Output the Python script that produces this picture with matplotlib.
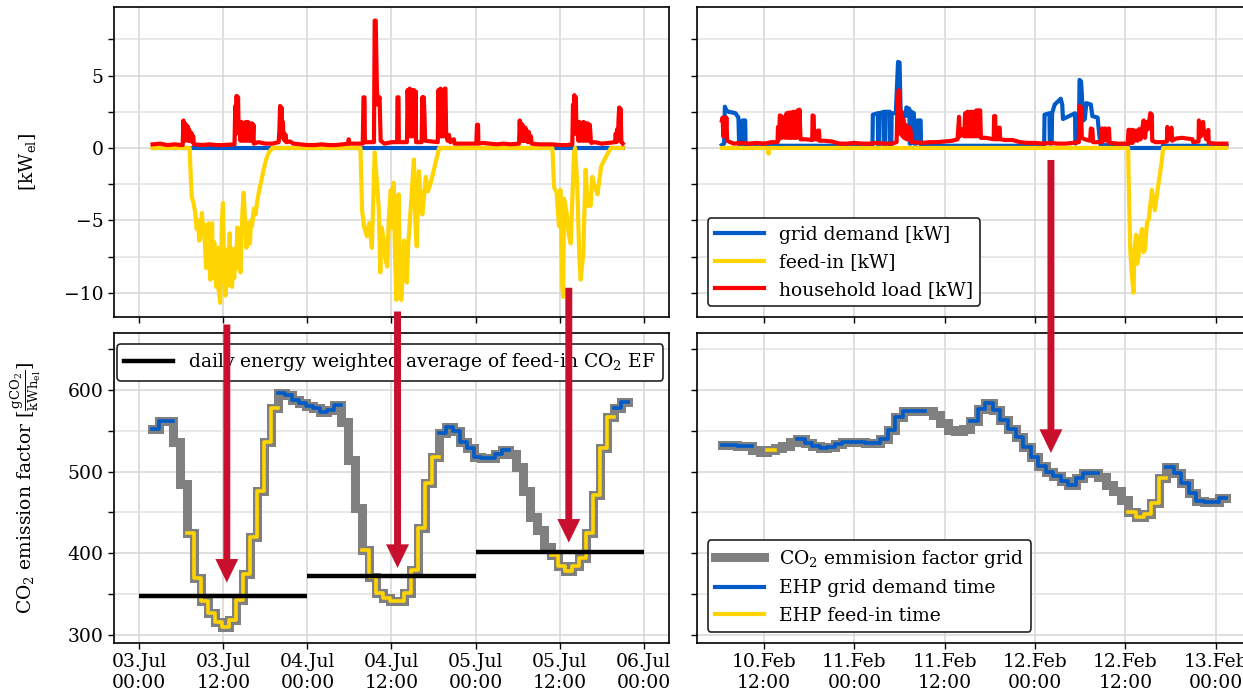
import numpy as np
import matplotlib
matplotlib.use("Agg")
import matplotlib.pyplot as plt
import matplotlib.dates as mdates
from matplotlib.ticker import MultipleLocator
from matplotlib.patches import ConnectionPatch
from matplotlib.lines import Line2D
from datetime import datetime

plt.rcParams["font.family"] = "DejaVu Serif"
plt.rcParams["mathtext.fontset"] = "dejavuserif"
plt.rcParams["font.size"] = 13.5

BLUE = "#005ac8"
YELLOW = "#ffd400"
RED = "#ff0000"
GREY = "#808080"
ARROW = "#c8102e"

JUL0 = mdates.date2num(datetime(2022, 7, 3))
FEB0 = mdates.date2num(datetime(2022, 2, 10))

# ---- top row: power series, (hours since day-0 00:00, kW) ------------------------
SUMMER_GRID = [(1.9, 0.0), (69.0, 0.0)]
SUMMER_FEEDIN = [
    (1.9, 0), (7.2, 0), (7.35, -2.0), (7.5, -3.4), (7.75, -3.8), (8.0, -4.5), (8.2, -5.6),
    (8.4, -5.0), (8.55, -6.4), (8.7, -6.3), (8.95, -4.5), (9.1, -5.6), (9.25, -5.3),
    (9.4, -6.9), (9.55, -8.3), (9.7, -5.6), (9.9, -5.2), (10.0, -7.2), (10.15, -9.1),
    (10.3, -6.0), (10.4, -5.2), (10.55, -9.0), (10.7, -6.5), (10.85, -7.7), (11.0, -9.6),
    (11.1, -7.3), (11.2, -6.9), (11.35, -9.9), (11.55, -10.7), (11.7, -7.5), (11.8, -5.0),
    (11.95, -3.8), (12.1, -8.0), (12.3, -10.2), (12.45, -8.4), (12.6, -7.0), (12.75, -9.5),
    (12.9, -5.9), (13.05, -8.8), (13.25, -9.6), (13.4, -7.0), (13.55, -9.0), (13.7, -6.9),
    (13.85, -8.3), (14.0, -5.5), (14.2, -6.2), (14.3, -7.8), (14.45, -8.6), (14.6, -6.0),
    (14.75, -4.2), (14.9, -3.1), (15.1, -5.0), (15.3, -6.9), (15.45, -5.8), (15.6, -5.2),
    (15.8, -6.6), (15.95, -5.0), (16.1, -5.4), (16.35, -4.2), (16.6, -4.6), (16.8, -3.8),
    (17.05, -3.1), (17.4, -2.3), (17.75, -1.5), (18.1, -0.8), (18.5, -0.3), (19.0, 0),
    (31.57, 0), (31.8, -4.3), (32.1, -5.5), (32.5, -6.1), (32.8, -5.2), (33.2, -6.9),
    (33.6, -0.3), (34.2, -4.3), (34.4, -8.6), (34.6, -5.5), (34.9, -6.4), (35.1, -7.6),
    (35.4, -8.2), (35.6, -5.0), (35.9, -2.9), (36.1, -5.5), (36.3, -2.4), (36.5, -7.5),
    (36.7, -10.5), (36.85, -6.0), (37.0, -3.2), (37.2, -8.0), (37.4, -10.5), (37.6, -8.5),
    (37.8, -6.4), (38.0, -8.8), (38.2, -9.3), (38.4, -6.5), (38.6, -5.2), (38.9, -3.0),
    (39.2, -0.8), (39.4, -5.0), (39.6, -6.8), (39.9, -1.6), (40.2, -3.8), (40.4, -4.6),
    (40.9, -2.0), (41.2, -3.0), (41.6, -2.4), (42.2, -1.2), (42.8, 0),
    (58.96, 0), (59.2, -2.7), (59.57, -3.1), (59.9, -5.4), (60.1, -2.9), (60.38, -9.6),
    (60.5, -10.3), (60.62, -3.5), (61.0, -4.5), (61.3, -6.0), (61.57, -6.6), (62.05, -0.3),
    (62.2, 0), (62.5, -2.5), (62.8, -7.5), (62.99, -9.1), (63.37, -7.3), (63.7, -1.5),
    (64.0, -4.0), (64.2, -3.6), (64.4, -4.0), (64.65, -2.0), (64.9, -2.5), (65.4, -3.2),
    (65.9, -1.3), (66.6, -0.6), (67.3, 0), (69.0, 0),
]
SUMMER_LOAD = [
    (1.9, 0.25), (3.0, 0.3), (4.0, 0.2), (5.0, 0.25), (6.2, 0.2), (6.3, 1.9), (6.4, 0.6),
    (6.5, 1.7), (6.6, 0.5), (6.7, 1.6), (6.8, 0.6), (6.9, 1.5), (7.0, 0.5), (7.1, 1.3),
    (7.2, 0.5), (7.3, 1.1), (7.4, 0.5), (7.5, 1.0), (7.6, 0.4), (7.7, 0.8), (7.8, 0.25),
    (9, 0.2), (10, 0.25), (11, 0.2), (12, 0.2), (13.6, 0.25), (13.7, 2.9), (13.8, 1.0),
    (13.9, 3.6), (14.0, 1.2), (14.1, 3.5), (14.2, 1.0), (14.3, 1.8), (14.45, 0.5),
    (14.6, 1.8), (14.75, 0.5), (14.9, 1.7), (15.05, 0.5), (15.2, 1.8), (15.35, 0.5),
    (15.5, 1.8), (15.65, 0.5), (15.8, 1.7), (15.95, 0.5), (16.1, 1.7), (16.2, 0.5),
    (16.3, 1.6), (16.35, 0.3), (17, 0.4), (18, 0.3), (19, 0.3), (19.9, 0.4), (20.0, 1.2),
    (20.1, 2.9), (20.2, 1.0), (20.3, 2.8), (20.4, 1.0), (20.5, 1.8), (20.6, 0.6),
    (20.7, 1.0), (20.8, 0.5), (20.9, 0.9), (21.0, 0.4), (21.5, 0.45), (22, 0.3), (23, 0.25),
    (24, 0.2), (25, 0.2), (26, 0.25), (27, 0.2), (28, 0.2), (29, 0.25), (29.8, 0.3),
    (29.9, 0.6), (30.0, 0.3), (31, 0.3), (31.9, 0.3), (32.0, 3.5), (32.15, 3.5), (32.2, 0.4),
    (33.5, 0.4), (33.6, 8.8), (33.75, 8.8), (33.9, 4.5), (34.0, 3.0), (34.3, 3.5),
    (34.45, 0.5), (35, 0.3), (36, 0.4), (36.8, 0.4), (36.85, 3.5), (37.0, 3.5), (37.05, 0.4),
    (38.2, 0.4), (38.3, 4.0), (38.45, 0.8), (38.6, 4.1), (38.75, 0.8), (38.9, 4.0),
    (39.05, 0.8), (39.2, 4.0), (39.35, 0.8), (39.45, 3.9), (39.5, 0.4), (40.3, 0.4),
    (40.4, 3.5), (40.5, 1.0), (40.6, 3.5), (40.7, 2.3), (40.8, 0.5), (42.6, 0.4), (42.7, 4.0),
    (42.85, 0.8), (43.0, 4.1), (43.15, 0.8), (43.3, 4.0), (43.45, 0.8), (43.6, 4.1),
    (43.7, 4.1), (43.8, 1.0), (44.0, 0.5), (44.2, 0.9), (44.4, 0.4), (44.9, 0.6), (45.0, 0.3),
    (46, 0.3), (47, 0.3), (48.1, 0.3), (48.2, 1.6), (48.35, 1.6), (48.4, 0.3), (49, 0.35),
    (50, 0.3), (51, 0.25), (52, 0.3), (53, 0.25), (54.2, 0.3), (54.3, 1.9), (54.4, 0.5),
    (54.5, 1.7), (54.6, 0.5), (54.7, 1.6), (54.8, 0.5), (54.9, 1.4), (55.0, 0.5),
    (55.1, 1.4), (55.2, 0.5), (55.3, 1.2), (55.45, 0.4), (55.6, 1.1), (55.75, 0.4),
    (55.9, 0.8), (56.0, 0.3), (57, 0.25), (58, 0.25), (59, 0.25), (60, 0.2), (61, 0.2),
    (61.8, 0.25), (61.9, 3.0), (62.0, 1.0), (62.1, 3.65), (62.2, 1.0), (62.3, 3.5),
    (62.4, 1.0), (62.5, 1.8), (62.65, 0.5), (62.8, 1.8), (62.95, 0.5), (63.1, 1.7),
    (63.25, 0.5), (63.4, 1.8), (63.55, 0.5), (63.7, 1.7), (63.85, 0.5), (64.0, 1.7),
    (64.15, 0.5), (64.3, 1.6), (64.45, 0.5), (64.5, 0.35), (65, 0.4), (66, 0.3), (67, 0.35),
    (67.9, 0.4), (68.0, 1.0), (68.1, 0.4), (68.2, 1.3), (68.3, 0.5), (68.4, 2.0),
    (68.5, 2.8), (68.6, 0.6), (68.7, 2.7), (68.8, 0.4), (69.0, 0.3),
]

WINTER_GRID = [
    (6.4, 0.2), (6.7, 0.3), (6.8, 2.85), (7.0, 2.6), (7.3, 2.5), (7.8, 2.45), (8.2, 2.4),
    (8.6, 2.1), (8.7, 0.2), (9.1, 0.2), (9.15, 1.9), (9.5, 1.9), (9.55, 0.15), (26.4, 0.15),
    (26.45, 2.3), (27.1, 2.4), (27.15, 0.2), (27.3, 0.2), (27.35, 2.4), (27.9, 2.5),
    (27.95, 0.2), (28.1, 0.2), (28.15, 2.5), (28.7, 2.5), (28.75, 0.2), (28.9, 0.2),
    (28.95, 2.4), (29.5, 2.4), (29.8, 5.95), (30.0, 5.9), (30.15, 2.3), (30.8, 2.2),
    (30.9, 2.8), (31.3, 2.7), (31.35, 0.3), (31.5, 0.3), (31.55, 2.5), (31.9, 2.4),
    (31.95, 0.3), (32.3, 0.3), (32.35, 1.9), (32.8, 1.9), (32.85, 0.15), (49.2, 0.15),
    (49.25, 2.3), (49.9, 2.4), (49.95, 0.3), (50.2, 0.3), (50.25, 2.4), (50.6, 3.0),
    (51.4, 3.4), (51.6, 3.0), (51.7, 2.0), (52.5, 2.2), (53.3, 2.4), (53.35, 0.3),
    (53.8, 0.5), (53.9, 4.7), (54.1, 4.6), (54.4, 1.9), (54.6, 2.0), (54.8, 3.1),
    (55.4, 3.0), (55.6, 2.2), (56.3, 2.1), (56.5, 1.0), (56.7, 0.2), (60.3, 0.15),
    (60.35, 0.0), (64.9, 0.0), (64.95, 0.15), (73.4, 0.15),
]
WINTER_FEEDIN = [
    (6.4, 0), (12.5, 0), (12.6, -0.4), (12.7, 0), (60.35, 0), (60.45, -3.0), (60.63, -7.0),
    (60.8, -8.5), (61.07, -10.0), (61.2, -7.0), (61.4, -6.0), (61.55, -8.0), (61.7, -7.6),
    (61.95, -6.2), (62.2, -5.6), (62.4, -7.2), (62.6, -7.0), (62.85, -5.2), (63.1, -4.9),
    (63.5, -2.9), (63.9, -4.3), (64.4, -2.4), (64.8, -1.0), (65.0, 0), (73.4, 0),
]
WINTER_LOAD = [
    (6.4, 1.9), (6.5, 2.1), (6.6, 0.8), (6.75, 2.1), (6.9, 0.8), (7.0, 2.1), (7.1, 0.5),
    (7.5, 0.4), (8, 0.3), (9, 0.35), (10, 0.3), (11, 0.35), (12, 0.3), (13, 0.4),
    (13.8, 0.4), (13.85, 1.45), (14.0, 0.6), (14.1, 2.25), (14.3, 2.2), (14.35, 0.7),
    (14.65, 2.1), (14.8, 0.7), (15.0, 2.4), (15.15, 0.7), (15.3, 2.45), (15.45, 0.7),
    (15.6, 2.45), (15.75, 0.7), (15.9, 2.5), (16.05, 0.7), (16.2, 2.5), (16.35, 0.7),
    (16.5, 2.6), (16.6, 0.8), (16.7, 2.65), (16.85, 0.6), (17.5, 0.6), (18.4, 0.55),
    (18.45, 2.25), (18.6, 2.2), (18.65, 0.6), (19.1, 0.6), (19.15, 1.2), (19.3, 1.2),
    (19.35, 0.5), (20, 0.5), (21, 0.45), (22, 0.3), (23, 0.3), (24, 0.35), (25, 0.3),
    (26, 0.3), (27, 0.35), (28, 0.3), (29, 0.3), (29.6, 0.4), (29.7, 2.5), (29.9, 4.0),
    (30.0, 1.0), (30.05, 3.0), (30.2, 1.0), (30.3, 2.5), (30.4, 0.8), (30.5, 2.0),
    (30.6, 0.7), (30.8, 1.6), (30.9, 0.6), (31.0, 1.5), (31.2, 0.6), (31.4, 1.4),
    (31.6, 0.4), (32, 0.4), (33, 0.35), (34, 0.4), (35, 0.4), (36, 0.45), (37, 0.5),
    (37.7, 0.6), (37.8, 1.4), (37.9, 2.15), (38.0, 0.8), (38.1, 1.3), (38.5, 1.3),
    (38.6, 0.8), (38.7, 2.4), (38.85, 0.8), (39.0, 2.5), (39.15, 0.8), (39.3, 2.5),
    (39.45, 0.8), (39.6, 2.5), (39.75, 0.8), (39.9, 2.5), (40.05, 0.8), (40.2, 2.6),
    (40.35, 0.8), (40.5, 2.6), (40.7, 2.6), (40.8, 0.7), (41.5, 0.7), (42.5, 0.6),
    (42.55, 2.2), (42.7, 2.2), (42.75, 0.6), (43.1, 0.6), (43.15, 1.4), (43.3, 1.4),
    (43.35, 0.6), (44, 0.55), (45, 0.55), (46, 0.4), (47, 0.35), (48, 0.35), (49, 0.3),
    (50, 0.35), (51, 0.3), (52, 0.3), (53, 0.35), (53.8, 0.4), (53.9, 2.9), (54.1, 2.8),
    (54.2, 0.7), (54.6, 0.6), (55.3, 0.5), (55.4, 1.35), (55.6, 1.3), (55.7, 0.4),
    (56.8, 0.4), (56.9, 1.35), (57.1, 0.5), (57.3, 1.35), (57.5, 0.5), (57.8, 1.35),
    (57.9, 0.35), (59, 0.3), (60.3, 0.3), (60.4, 1.25), (60.6, 1.25), (60.65, 0.35),
    (60.95, 0.35), (61.0, 1.25), (61.2, 0.5), (61.4, 1.2), (61.6, 0.5), (61.8, 1.3),
    (62.0, 0.6), (62.2, 1.3), (62.4, 1.9), (62.6, 0.7), (62.8, 1.8), (63.0, 1.3),
    (63.3, 2.4), (63.5, 2.3), (63.55, 0.5), (64, 0.4), (65, 0.4), (65.5, 0.45),
    (65.55, 1.45), (65.8, 0.6), (66.1, 1.4), (66.2, 0.5), (66.7, 0.65), (67.5, 0.7),
    (68.9, 0.6), (69.0, 0.4), (69.7, 0.45), (69.75, 1.9), (70.0, 0.8), (70.3, 1.8),
    (70.4, 1.25), (70.7, 0.6), (71.0, 1.25), (71.05, 0.35), (72, 0.3), (73.4, 0.3),
]

# ---- bottom row: hourly grid CO2 emission factor [g/kWh] and EHP state ----------
# state per hour: D = grid demand, F = feed-in, G = neither
SUMMER_EF_START = 1.8
SUMMER_EF = [552, 562, 562, 537, 485, 425, 370, 341, 327, 316, 310, 318, 343, 374, 420,
             476, 537, 578, 596, 594, 588, 584, 580, 578, 573, 576, 582, 561, 514, 455,
             404, 371, 351, 345, 342, 341, 351, 380, 431, 486, 518, 547, 555, 550, 537,
             529, 518, 517, 517, 522, 526, 522, 506, 476, 445, 429, 408, 398, 384, 378,
             384, 394, 425, 471, 529, 567, 578, 586]
SUMMER_STATE = "DDDGG" + "F" * 13 + "D" * 9 + "GGG" + "F" * 11 + "D" * 10 + "G" * 6 + "F" * 9 + "DD"
SUMMER_DAILY_AVG = [348, 372, 401]          # feed-in weighted, per day
SUMMER_DAYS = [0, 24, 48]

WINTER_EF_START = 6.4
WINTER_EF = [533, 533, 532, 531, 527, 524, 527, 529, 531, 536, 540, 535, 531, 529, 530,
             534, 536, 537, 537, 535, 535, 540, 551, 567, 574, 575, 575, 574, 570, 560,
             551, 550, 552, 562, 577, 584, 576, 563, 552, 542, 530, 518, 507, 500, 495,
             488, 484, 492, 499, 499, 494, 484, 476, 465, 450, 444, 448, 462, 492, 506,
             499, 486, 474, 464, 463, 463, 468]
WINTER_STATE = "DDDD" + "GG" + "F" + "GGG" + "D" * 17 + "G" * 6 + "D" * 17 + "G" * 4 + "F" * 5 + "D" * 8


def draw_power(ax, base, grid, feed, load):
    for series, col in ((grid, BLUE), (feed, YELLOW), (load, RED)):
        h, v = zip(*series)
        ax.plot(base + np.array(h) / 24, v, color=col, lw=3.0, zorder=3)


def draw_ef(ax, base, start, ef, state):
    ef = np.array(ef, float)
    h = start + np.arange(len(ef) + 1)
    t = base + h / 24
    y = np.append(ef, ef[-1])
    st = np.array(list(state) + [state[-1]])
    ax.step(t, y, where="post", color=GREY, lw=6.5, zorder=3, solid_joinstyle="miter")
    for key, col in (("D", BLUE), ("F", YELLOW)):
        yy = np.where(st == key, y, np.nan)
        ax.step(t, yy, where="post", color=col, lw=2.6, zorder=4)


fig = plt.figure(figsize=(12.43, 6.99), dpi=100)
W, H = 1243.0, 699.0


def box(l, t, r, b):
    return [l / W, 1 - b / H, (r - l) / W, (b - t) / H]


axTL = fig.add_axes(box(114, 7, 669, 317))
axTR = fig.add_axes(box(697, 7, 1252, 317))
axBL = fig.add_axes(box(114, 333, 669, 643))
axBR = fig.add_axes(box(697, 333, 1252, 643))

draw_power(axTL, JUL0, SUMMER_GRID, SUMMER_FEEDIN, SUMMER_LOAD)
draw_power(axTR, FEB0, WINTER_GRID, WINTER_FEEDIN, WINTER_LOAD)
draw_ef(axBL, JUL0, SUMMER_EF_START, SUMMER_EF, SUMMER_STATE)
draw_ef(axBR, FEB0, WINTER_EF_START, WINTER_EF, WINTER_STATE)

for d, avg in zip(SUMMER_DAYS, SUMMER_DAILY_AVG):
    axBL.hlines(avg, JUL0 + d / 24, JUL0 + (d + 24) / 24, color="black", lw=3.2, zorder=5)

for ax, base, lim in ((axTL, JUL0, (-3.6, 75.6)), (axBL, JUL0, (-3.6, 75.6)),
                      (axTR, FEB0, (3.1, 76.8)), (axBR, FEB0, (3.1, 76.8))):
    ax.set_xlim(base + lim[0] / 24, base + lim[1] / 24)
    ax.xaxis.set_major_locator(mdates.HourLocator(byhour=[0, 12]))
    ax.xaxis.set_major_formatter(mdates.DateFormatter("%d.%b\n%H:%M"))
    ax.grid(True, which="major", color="#d6d6d6", lw=1.1, zorder=0)
    ax.grid(True, which="minor", axis="y", color="#e2e2e2", lw=1.1, zorder=0)
    ax.tick_params(which="both", direction="out", length=4, width=1, labelsize=13.5)
    for s in ax.spines.values():
        s.set_linewidth(1.2)
    ax.set_axisbelow(True)

for ax in (axTL, axTR):
    ax.set_ylim(-11.68, 9.74)
    ax.yaxis.set_major_locator(MultipleLocator(5))
    ax.yaxis.set_minor_locator(MultipleLocator(2.5))
    ax.tick_params(axis="x", labelbottom=False)
for ax in (axBL, axBR):
    ax.set_ylim(290, 670)
    ax.yaxis.set_major_locator(MultipleLocator(100))
    ax.yaxis.set_minor_locator(MultipleLocator(50))
for ax in (axTR, axBR):
    ax.tick_params(axis="y", labelleft=False)

axTL.set_ylabel(r"[kW$_\mathrm{el}$]")
axTL.yaxis.set_label_coords(-0.137, 0.5)
axBL.set_ylabel(r"CO$_2$ emission factor [$\frac{\mathrm{gCO_2}}{\mathrm{kWh_{el}}}$]")
axBL.yaxis.set_label_coords(-0.128, 0.5)

leg_kw = dict(fancybox=True, framealpha=1, edgecolor="#222222", handlelength=2.6,
              borderaxespad=0, fontsize=13.5)
lt = axTR.legend([Line2D([], [], color=c, lw=3) for c in (BLUE, YELLOW, RED)],
                 ["grid demand [kW]", "feed-in [kW]", "household load [kW]"],
                 loc="lower left", bbox_to_anchor=(0.019, 0.035), **leg_kw)
lb = axBL.legend([Line2D([], [], color="black", lw=3.2)],
                 [r"daily energy weighted average of feed-in CO$_2$ EF"],
                 loc="upper left", bbox_to_anchor=(0.005, 0.965), **leg_kw)
lr = axBR.legend([Line2D([], [], color=GREY, lw=6.5), Line2D([], [], color=BLUE, lw=3),
                  Line2D([], [], color=YELLOW, lw=3)],
                 [r"CO$_2$ emmision factor grid", "EHP grid demand time", "EHP feed-in time"],
                 loc="lower left", bbox_to_anchor=(0.019, 0.035), **leg_kw)
for lg in (lt, lb, lr):
    lg.get_frame().set_linewidth(1.2)

# arrows from the feed-in hours in the power plot to the emission factor
ARROWS = [(axTL, axBL, JUL0, 12.5, -12.2, 364),
          (axTL, axBL, JUL0, 36.86, -11.3, 382),
          (axTL, axBL, JUL0, 61.3, -9.66, 413),
          (axTR, axBR, FEB0, 50.1, -0.83, 523)]
for axA, axB, base, hh, ya, yb in ARROWS:
    x = base + hh / 24
    con = ConnectionPatch((x, ya), (x, yb), coordsA=axA.transData, coordsB=axB.transData,
                          arrowstyle="simple,head_length=17,head_width=16.5,tail_width=5",
                          mutation_scale=1, color=ARROW, lw=0, shrinkA=0, shrinkB=0,
                          zorder=10)
    fig.add_artist(con)

fig.savefig("out.png", dpi=100)
